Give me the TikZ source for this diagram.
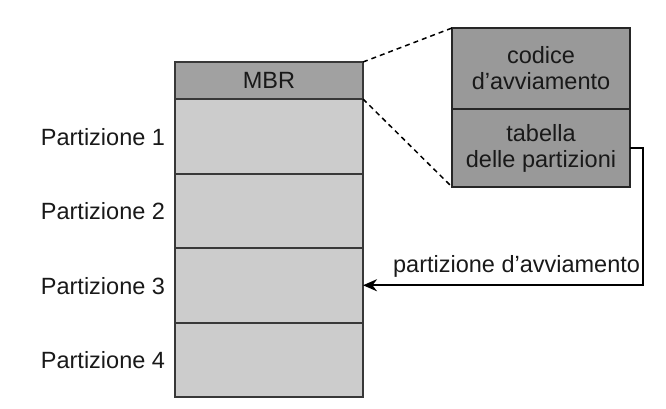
\documentclass[tikz,border=0pt]{standalone}
\usepackage{fontspec}
\setmainfont{Liberation Sans}
\usetikzlibrary{arrows.meta}
\definecolor{mbrgray}{gray}{0.63}
\definecolor{partgray}{gray}{0.80}
\definecolor{boxgray}{gray}{0.60}
\definecolor{edgegray}{gray}{0.22}
\begin{document}
\begin{tikzpicture}[x=1pt,y=-1pt,
  every node/.style={inner sep=0pt, outer sep=0pt, font=\fontsize{23.5}{26}\selectfont, text=black!90},
  stackbox/.style={draw=edgegray, line width=2pt, minimum width=188pt, minimum height=74.5pt, fill=partgray},
  mbrbox/.style={draw=edgegray, line width=2pt, minimum width=188pt, minimum height=37pt, fill=mbrgray},
  detailbox/.style={draw=black!85, line width=1.5pt, minimum width=178pt, fill=boxgray, align=center},
  plabel/.style={anchor=east},
  zoomline/.style={line width=1.5pt, dash pattern=on 5pt off 4pt},
  link/.style={line width=2.4pt, -{Stealth[length=14pt,width=12pt]}}
]
\useasboundingbox (0,0) rectangle (666,408);
\node[mbrbox] (mbr) at (269,80.5) {MBR};
\node[stackbox] (p1) at (269,136.25) {};
\node[stackbox] (p2) at (269,210.75) {};
\node[stackbox] (p3) at (269,285.25) {};
\node[stackbox] (p4) at (269,359.75) {};
\node[plabel] (l1) at (165,137) {Partizione 1};
\node[plabel] (l2) at (165,211.5) {Partizione 2};
\node[plabel] (l3) at (165,286) {Partizione 3};
\node[plabel] (l4) at (165,360.5) {Partizione 4};
\node[detailbox, minimum height=81pt] (code) at (541,68.5) {codice\\d’avviamento};
\node[detailbox, minimum height=78pt] (tab) at (541,148) {tabella\\delle partizioni};
\draw[zoomline] (mbr.north east) -- (code.north west);
\draw[zoomline] (mbr.south east) -- (tab.south west);
\coordinate (turn) at (643,148);
\draw[link] (tab.east) -- (turn) |- (p3.east);
\node[anchor=base east] (lab) at (640,272) {partizione d’avviamento};
\end{tikzpicture}
\end{document}
